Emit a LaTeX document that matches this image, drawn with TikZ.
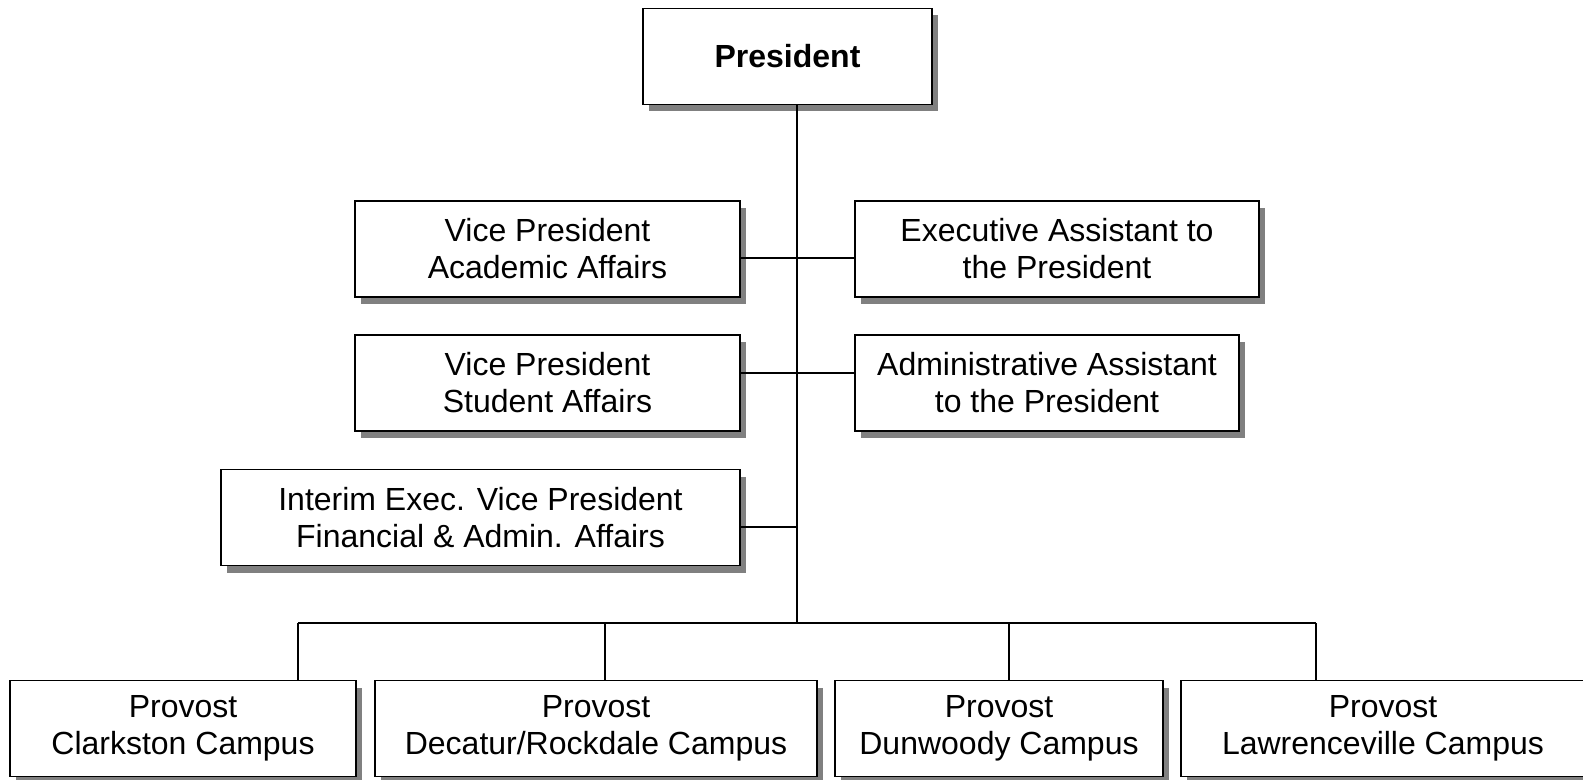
\documentclass[tikz,border=0pt]{standalone}
\usepackage{fontspec}
\setmainfont{Liberation Sans}
\usetikzlibrary{shadows}

\begin{document}
\begin{tikzpicture}[x=0.5pt, y=-0.5pt,
  unit/.style={rectangle, draw=black, line width=0.8pt, fill=white,
    align=center, inner sep=0pt, minimum height=48pt,
    font=\fontsize{16}{18.5}\selectfont,
    drop shadow={shadow xshift=3pt, shadow yshift=-3.5pt, fill=black!50, opacity=1}},
  link/.style={line width=0.55pt}]
  \useasboundingbox (0,0) rectangle (1583,780);

  % president
  \node[unit, minimum width=144.5pt, font=\fontsize{16}{18.5}\selectfont\bfseries](President) at (787.5,56.5){President};

  % vice presidents and assistants
  \node[unit, minimum width=192.5pt](VPAcademic) at (547.5,249){Vice President\\Academic Affairs};
  \node[unit, minimum width=202pt](ExecAssistant) at (1057,249){Executive Assistant to\\the President};
  \node[unit, minimum width=192.5pt](VPStudent) at (547.5,383){Vice President\\Student Affairs};
  \node[unit, minimum width=192pt](AdminAssistant) at (1047,383){Administrative Assistant\\to the President};
  \node[unit, minimum width=259.5pt](InterimVP) at (480.5,517.5){Interim Exec. Vice President\\Financial \& Admin. Affairs};

  % provosts
  \node[unit, minimum width=173pt](ProvostClarkston) at (183,728.5){Provost\\Clarkston Campus};
  \node[unit, minimum width=221pt](ProvostDecatur) at (596,728.5){Provost\\Decatur/Rockdale Campus};
  \node[unit, minimum width=164pt](ProvostDunwoody) at (999,728.5){Provost\\Dunwoody Campus};
  \node[unit, minimum width=202pt](ProvostLawrenceville) at (1383,728.5){Provost\\Lawrenceville Campus};

  % trunk and taps
  \coordinate (Bus) at (797,623);
  \coordinate (AcademicTap) at (797,258);
  \coordinate (StudentTap) at (797,373);
  \coordinate (InterimTap) at (797,527);
  \coordinate (ClarkstonTap) at (298,623);
  \coordinate (DecaturTap) at (605,623);
  \coordinate (DunwoodyTap) at (1009,623);
  \coordinate (LawrencevilleTap) at (1316,623);

  \draw[link] (President.south -| Bus) -- (Bus);
  \draw[link] (AcademicTap -| VPAcademic.east) -- (AcademicTap -| ExecAssistant.west);
  \draw[link] (StudentTap -| VPStudent.east) -- (StudentTap -| AdminAssistant.west);
  \draw[link] (InterimTap -| InterimVP.east) -- (InterimTap);
  \draw[link] (ClarkstonTap) -- (LawrencevilleTap);
  \draw[link] (ClarkstonTap) -- (ClarkstonTap |- ProvostClarkston.north);
  \draw[link] (DecaturTap) -- (DecaturTap |- ProvostDecatur.north);
  \draw[link] (DunwoodyTap) -- (DunwoodyTap |- ProvostDunwoody.north);
  \draw[link] (LawrencevilleTap) -- (LawrencevilleTap |- ProvostLawrenceville.north);
\end{tikzpicture}
\end{document}
